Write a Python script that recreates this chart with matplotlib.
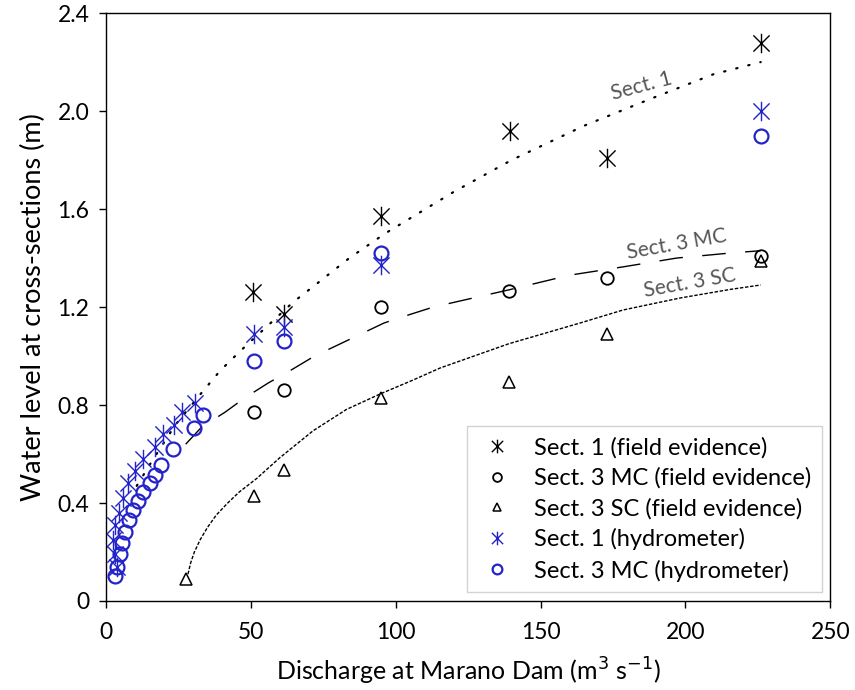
import numpy as np
import matplotlib
matplotlib.use("Agg")
import matplotlib.pyplot as plt
from matplotlib.path import Path

plt.rcParams['font.family'] = ['Lato', 'DejaVu Sans']

# field evidence
s1_field_q = [50.8, 61.5, 95, 139.5, 173, 226]
s1_field_h = [1.26, 1.17, 1.57, 1.92, 1.81, 2.28]
mc_field_q = [51, 61.5, 95, 139, 173, 226]
mc_field_h = [0.77, 0.86, 1.20, 1.265, 1.32, 1.41]
sc_field_q = [27.5, 51, 61.5, 95, 139, 173, 226]
sc_field_h = [0.09, 0.43, 0.535, 0.83, 0.895, 1.09, 1.39]

# hydrometer
s1_hyd_q = [3.7, 3.1, 2.3, 3.1, 4.6, 6.0, 7.7, 10.0, 12.9, 16.9, 19.8, 23.5,
            26.1, 30.7, 51, 61.5, 95, 226]
s1_hyd_h = [0.14, 0.19, 0.25, 0.31, 0.36, 0.42, 0.48, 0.53, 0.58, 0.63, 0.68,
            0.72, 0.77, 0.81, 1.09, 1.12, 1.37, 2.0]
mc_hyd_q = [3.1, 3.7, 4.8, 5.4, 6.6, 8.0, 9.4, 11.2, 12.9, 15.2, 16.9, 18.9,
            23.0, 30.2, 33.4, 51, 61.5, 95, 226]
mc_hyd_h = [0.10, 0.14, 0.19, 0.235, 0.28, 0.33, 0.37, 0.41, 0.445, 0.48,
            0.515, 0.555, 0.62, 0.705, 0.76, 0.98, 1.06, 1.42, 1.90]

# trend curves
s1_trend_q = [10.6, 15.8, 24, 33, 39.4, 46.3, 57.3, 64.6, 72.2, 84, 96.3,
              120, 140, 165, 188, 209.6, 226]
s1_trend_h = [0.47, 0.57, 0.72, 0.85, 0.94, 1.02, 1.14, 1.22, 1.29, 1.40,
              1.50, 1.67, 1.80, 1.94, 2.05, 2.15, 2.20]
mc_trend_q = [27.5, 33, 41, 48, 56, 63.5, 72, 80, 88, 96, 105, 113, 139,
              160, 179, 197, 215, 226]
mc_trend_h = [0.64, 0.71, 0.77, 0.83, 0.89, 0.94, 1.00, 1.045, 1.09, 1.135,
              1.17, 1.20, 1.27, 1.33, 1.365, 1.40, 1.42, 1.43]
sc_trend_q = [28.3, 29.2, 30.5, 32.5, 35, 38, 42, 46, 52, 60, 71.5, 83,
              94.6, 106, 115.3, 139, 163.7, 178.5, 198.2, 215.5, 226]
sc_trend_h = [0.11, 0.155, 0.20, 0.25, 0.30, 0.35, 0.40, 0.445, 0.50, 0.585,
              0.695, 0.782, 0.845, 0.902, 0.951, 1.05, 1.135, 1.188, 1.237,
              1.272, 1.29]

xticks = [0, 50, 100, 150, 200, 250]
yticks = [0, 0.4, 0.8, 1.2, 1.6, 2.0, 2.4]
ytick_labels = ['0', '0.4', '0.8', '1.2', '1.6', '2.0', '2.4']

blue = '#2323c8'
star = Path([(-1, -1), (1, 1), (-1, 1), (1, -1), (0, -1.2), (0, 1.2)],
            [Path.MOVETO, Path.LINETO, Path.MOVETO, Path.LINETO,
             Path.MOVETO, Path.LINETO])

fig = plt.figure(figsize=(8.55, 6.9), dpi=100)
ax = fig.add_axes([0.124, 0.129, 0.847, 0.852])

ax.plot(s1_trend_q, s1_trend_h, color='black', lw=1.6, ls=(0, (0.6, 5)),
        dash_capstyle='round')
ax.plot(mc_trend_q, mc_trend_h, color='black', lw=1.0, ls=(0, (17, 14)))
ax.plot(sc_trend_q, sc_trend_h, color='black', lw=1.0, ls=(0, (2.5, 1.2)))

ax.plot(s1_field_q, s1_field_h, ls='none', marker=star, ms=14, mew=1.0,
        color='black', label='Sect. 1 (field evidence)')
ax.plot(mc_field_q, mc_field_h, ls='none', marker='o', ms=9, mew=1.3,
        mfc='none', color='black', label='Sect. 3 MC (field evidence)')
ax.plot(sc_field_q, sc_field_h, ls='none', marker='^', ms=9, mew=1.1,
        mfc='none', color='black', label='Sect. 3 SC (field evidence)')
ax.plot(s1_hyd_q, s1_hyd_h, ls='none', marker=star, ms=14, mew=1.0,
        color=blue, label='Sect. 1 (hydrometer)')
ax.plot(mc_hyd_q, mc_hyd_h, ls='none', marker='o', ms=10, mew=1.6,
        mfc='none', color=blue, label='Sect. 3 MC (hydrometer)')

ax.text(185, 2.10, 'Sect. 1', rotation=15, ha='center', va='center',
        fontsize=15, color='#555555')
ax.text(197, 1.457, 'Sect. 3 MC', rotation=10, ha='center', va='center',
        fontsize=15, color='#555555')
ax.text(201.7, 1.30, 'Sect. 3 SC', rotation=10, ha='center', va='center',
        fontsize=15, color='#555555')

ax.set_xlim(0, 250)
ax.set_ylim(0, 2.4)
ax.set_xticks(xticks)
ax.set_yticks(yticks)
ax.set_yticklabels(ytick_labels)
ax.tick_params(direction='out', length=5, width=1, labelsize=16.5, pad=7)
ax.tick_params(axis='x', pad=10)
for sp in ax.spines.values():
    sp.set_linewidth(1.0)

ax.set_xlabel('Discharge at Marano Dam (m$^3$ s$^{-1}$)', fontsize=18,
              labelpad=9)
ax.set_ylabel('Water level at cross-sections (m)', fontsize=19.5, labelpad=8)

leg = ax.legend(loc='lower right', bbox_to_anchor=(0.989, 0.015),
                borderaxespad=0, fontsize=17, frameon=True, fancybox=False,
                markerscale=0.7, handlelength=1.6, handletextpad=0.8,
                labelspacing=0.38, borderpad=0.45)
leg.get_frame().set_edgecolor('#c8c8c8')
leg.get_frame().set_linewidth(1.0)

fig.savefig('out.png', dpi=100)
